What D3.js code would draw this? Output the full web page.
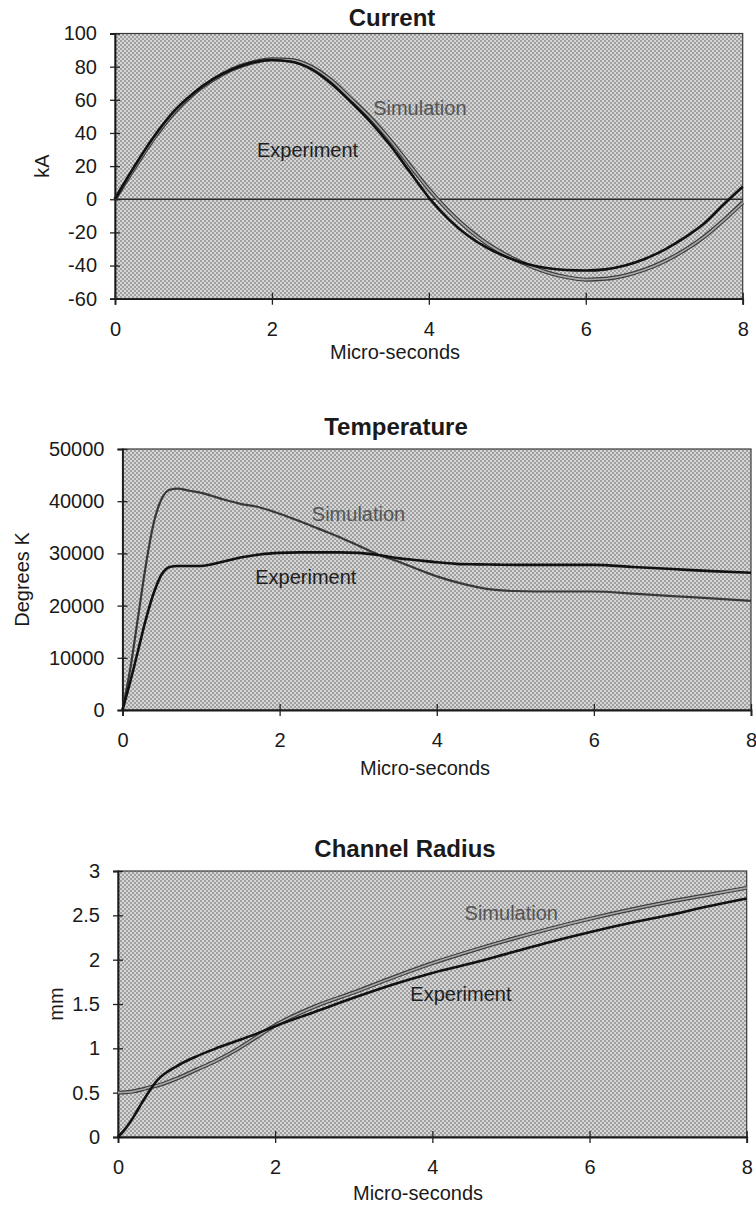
<!DOCTYPE html>
<html lang="en">
<head>
<meta charset="UTF-8">
<title>Current, Temperature, Channel Radius</title>
<script src="https://cdn.jsdelivr.net/npm/d3@7"></script>
<style>
    body { margin: 0; background: #fff; }
    svg text { font-family: "Liberation Sans", Arial, Helvetica, sans-serif; fill: #1a1a1a; }
    .tick text { font-size: 20px; }
    .title { font-size: 24px; font-weight: bold; }
    .axisTitle { font-size: 20px; }
    .lbl { font-size: 20px; }
</style>
</head>
<body>
<div id="chart"></div>
<script>
// ---- data ----
var currentT = [0,0.25,0.5,0.75,1,1.25,1.5,1.75,2,2.25,2.5,2.75,3,3.25,3.5,3.75,4,4.25,4.5,4.75,5,5.25,5.5,5.75,6,6.25,6.5,6.75,7,7.25,7.5,7.75,8];
var currentExp = [0,20,38,53,64,72.5,78.5,82.5,84,83,78.5,70,59,47,33,17,1,-12,-22,-29.5,-35,-39,-41.5,-42.7,-43,-42.3,-40,-36,-30.5,-23.5,-15,-3.5,7.5];
var currentSim = [0,19,37,52,63.5,72,78.5,82.5,84.5,84,80,72,61,49.5,36,21,6,-7,-18,-27,-34,-39.5,-44,-47,-48.5,-48,-46,-42.5,-37.5,-31,-23,-13,-2];

var tempT = [0,0.1,0.2,0.3,0.4,0.5,0.6,0.7,0.85,1,1.25,1.5,1.75,2,2.25,2.5,2.75,3,3.25,3.5,3.75,4,4.25,4.5,4.75,5,5.5,6,6.5,7,7.5,8];
var tempSim = [0,8000,18000,28000,36000,40500,42200,42400,42000,41600,40500,39500,38800,37600,36200,34700,33200,31500,29800,28500,27000,25600,24500,23600,23000,22800,22700,22700,22300,21800,21400,20900];
var tempExp = [0,5500,11500,17500,22500,26000,27400,27600,27600,27600,28300,29200,29800,30100,30200,30200,30200,30100,29700,29100,28700,28300,28000,27900,27850,27800,27800,27800,27400,27000,26600,26300];

var radiusT = [0,0.1,0.2,0.3,0.4,0.5,0.75,1,1.25,1.5,1.75,2,2.5,3,3.5,4,4.5,5,5.5,6,6.5,7,7.5,8];
var radiusSim = [0.5,0.505,0.515,0.535,0.56,0.58,0.66,0.76,0.86,0.98,1.12,1.26,1.47,1.63,1.8,1.96,2.1,2.23,2.35,2.46,2.56,2.65,2.73,2.81];
var radiusExp = [0,0.1,0.23,0.38,0.52,0.64,0.8,0.91,1.0,1.08,1.16,1.25,1.41,1.57,1.72,1.85,1.96,2.08,2.2,2.31,2.41,2.5,2.6,2.69];

var xTicks = [0,2,4,6,8];
var currentTicks = [-60,-40,-20,0,20,40,60,80,100];
var tempTicks = [0,10000,20000,30000,40000,50000];
var radiusTicks = [0,0.5,1,1.5,2,2.5,3];

var W = 756, H = 1205;

// plain hyphen for negatives, like the original
function plain(d) { return String(d); }

var svg = d3.select("#chart").append("svg")
    .attr("width", W)
    .attr("height", H);

// halftone-ish plot background
var defs = svg.append("defs");
var pat = defs.append("pattern")
    .attr("id", "dots")
    .attr("width", 4).attr("height", 4)
    .attr("patternUnits", "userSpaceOnUse");
pat.append("rect").attr("width", 4).attr("height", 4).attr("fill", "#d6d6d6");
pat.append("rect").attr("width", 2).attr("height", 2).attr("fill", "#a0a0a0");
pat.append("rect").attr("x", 2).attr("y", 2).attr("width", 2).attr("height", 2).attr("fill", "#a0a0a0");

var charts = [
    {title: "Current", yTitle: "kA", t: currentT, exp: currentExp, sim: currentSim,
     yDomain: [-60, 100], yTicks: currentTicks, zeroLine: true,
     left: 115, right: 742.7, top: 33.5, bottom: 298.7,
     titleX: 392, titleY: 18, yTitleX: 42, xTitleX: 395, xTitleY: 352,
     simLabel: [3.29, 55], expLabel: [1.81, 30], simDouble: true},
    {title: "Temperature", yTitle: "Degrees K", t: tempT, exp: tempExp, sim: tempSim,
     yDomain: [0, 50000], yTicks: tempTicks, zeroLine: false,
     left: 122.5, right: 751, top: 449, bottom: 710,
     titleX: 396, titleY: 427, yTitleX: 22, xTitleX: 425, xTitleY: 768,
     simLabel: [2.41, 37500], expLabel: [1.69, 25400], simDouble: false},
    {title: "Channel Radius", yTitle: "mm", t: radiusT, exp: radiusExp, sim: radiusSim,
     yDomain: [0, 3], yTicks: radiusTicks, zeroLine: false,
     left: 118, right: 746.7, top: 871, bottom: 1137,
     titleX: 405, titleY: 849, yTitleX: 56, xTitleX: 418, xTitleY: 1193,
     simLabel: [4.41, 2.53], expLabel: [3.72, 1.61], simDouble: true}
];

charts.forEach(function(c) {
    var x = d3.scaleLinear().domain([0, 8]).range([c.left, c.right]);
    var y = d3.scaleLinear().domain(c.yDomain).range([c.bottom, c.top]);
    var g = svg.append("g");

    // plot area
    g.append("rect")
        .attr("x", c.left).attr("y", c.top)
        .attr("width", c.right - c.left).attr("height", c.bottom - c.top)
        .attr("fill", "url(#dots)")
        .attr("stroke", "#3a3a3a")
        .attr("stroke-width", 1.2);

    if (c.zeroLine) {
        g.append("line")
            .attr("x1", c.left).attr("x2", c.right)
            .attr("y1", y(0)).attr("y2", y(0))
            .attr("stroke", "#2a2a2a").attr("stroke-width", 1.3);
    }

    // y axis with crossing ticks
    var ya = g.append("g")
        .attr("transform", "translate(" + c.left + ",0)")
        .call(d3.axisLeft(y).tickValues(c.yTicks).tickFormat(plain).tickSizeOuter(0).tickSize(5).tickPadding(13));
    ya.selectAll(".tick line").attr("x2", -5).attr("x1", 5).attr("stroke", "#222").attr("stroke-width", 1.3);
    ya.select(".domain").attr("stroke", "#1a1a1a").attr("stroke-width", 1.8);
    ya.selectAll("text").attr("fill", "#1a1a1a");

    // x axis with crossing ticks
    var xa = g.append("g")
        .attr("transform", "translate(0," + c.bottom + ")")
        .call(d3.axisBottom(x).tickValues(xTicks).tickFormat(plain).tickSizeOuter(0).tickSize(6).tickPadding(17));
    xa.selectAll(".tick line").attr("y1", -6).attr("y2", 6).attr("stroke", "#222").attr("stroke-width", 1.3);
    xa.select(".domain").attr("stroke", "#1a1a1a").attr("stroke-width", 1.8);
    xa.selectAll("text").attr("fill", "#1a1a1a");

    var line = d3.line()
        .x(function(d, i) { return x(c.t[i]); })
        .y(function(d) { return y(d); })
        .curve(d3.curveMonotoneX);

    // simulation
    if (c.simDouble) {
        g.append("path").attr("d", line(c.sim)).attr("fill", "none")
            .attr("stroke", "#3d3d3d").attr("stroke-width", 4);
        g.append("path").attr("d", line(c.sim)).attr("fill", "none")
            .attr("stroke", "#a8a8a8").attr("stroke-width", 1.6);
    } else {
        g.append("path").attr("d", line(c.sim)).attr("fill", "none")
            .attr("stroke", "#383838").attr("stroke-width", 2.2);
    }
    // experiment
    g.append("path").attr("d", line(c.exp)).attr("fill", "none")
        .attr("stroke", "#111").attr("stroke-width", 2.6);

    // in-plot labels
    g.append("text").attr("class", "lbl")
        .attr("x", x(c.simLabel[0])).attr("y", y(c.simLabel[1]))
        .attr("dy", "0.35em")
        .style("fill", "#555")
        .text("Simulation");
    g.append("text").attr("class", "lbl")
        .attr("x", x(c.expLabel[0])).attr("y", y(c.expLabel[1]))
        .attr("dy", "0.35em")
        .style("fill", "#1e1e1e")
        .text("Experiment");

    // titles
    g.append("text").attr("class", "title")
        .attr("x", c.titleX).attr("y", c.titleY)
        .attr("dy", "0.35em").attr("text-anchor", "middle")
        .text(c.title);
    g.append("text").attr("class", "axisTitle")
        .attr("x", c.xTitleX).attr("y", c.xTitleY)
        .attr("dy", "0.35em").attr("text-anchor", "middle")
        .text("Micro-seconds");
    g.append("text").attr("class", "axisTitle")
        .attr("transform", "translate(" + c.yTitleX + "," + ((c.top + c.bottom) / 2) + ") rotate(-90)")
        .attr("dy", "0.35em").attr("text-anchor", "middle")
        .text(c.yTitle);
});
</script>
</body>
</html>
